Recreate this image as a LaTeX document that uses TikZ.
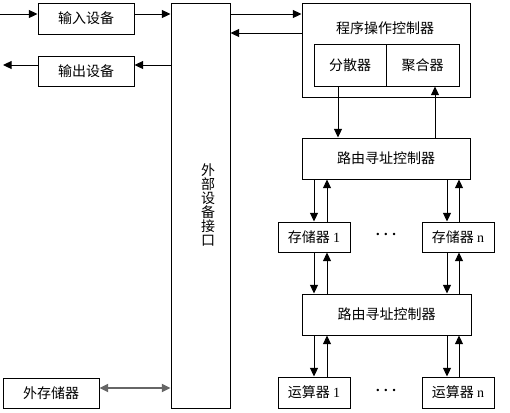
\documentclass[tikz,border=0pt]{standalone}
\usepackage{bm}
\usepackage{fontspec}
\setmainfont{Liberation Serif}
\newfontfamily\cjk{Noto Sans CJK SC}
\usetikzlibrary{arrows.meta}
\tikzset{every picture/.style={line width=0.75pt}}
\tikzset{
  box/.style={draw,inner sep=0pt,font=\cjk\fontsize{10.5}{12}\selectfont},
  arr/.style={-{Triangle[length=6.5pt,width=6pt]}},
  dblarr/.style={{Triangle[length=6.5pt,width=6pt]}-{Triangle[length=6.5pt,width=6pt]}}
}

\begin{document}
\begin{tikzpicture}[x=0.75pt,y=0.75pt,yscale=-1,xscale=1]
	%set diagram frame 510 x 412
	\useasboundingbox (0,0) rectangle (510,412);
	
	%Left devices
	\node [box,minimum width=72pt,minimum height=23.25pt] (in) at (86,18.5) {输入设备};
	\node [box,minimum width=72pt,minimum height=22.5pt] (out) at (86,71) {输出设备};
	\node [box,minimum width=72pt,minimum height=22.5pt] (ext) at (51,393) {外存储器};
	%Interface
	\node [box,minimum width=44.25pt,minimum height=303.75pt] (ifc) at (200.5,205.5) {};
	\node [font=\cjk\fontsize{10.5}{10.5}\selectfont,align=center,inner sep=0pt] (ifctxt) at (208,205) {外\\部\\设\\备\\接\\口};
	
	%Program controller
	\node [box,minimum width=126pt,minimum height=70.5pt] (pc) at (386,50) {};
	\node [font=\cjk\fontsize{10.5}{12}\selectfont,inner sep=0pt] (pctxt) at (385,28) {程序操作控制器};
	\node [box,minimum width=54pt,minimum height=31.5pt] (sc) at (350,65) {分散器};
	\node [box,minimum width=54.75pt,minimum height=31.5pt] (jh) at (422.5,65) {聚合器};
	
	%Routing controllers
	\node [box,minimum width=126pt,minimum height=30.75pt] (rt1) at (386,158.5) {路由寻址控制器};
	\node [box,minimum width=126.75pt,minimum height=30.75pt] (rt2) at (386.5,314.5) {路由寻址控制器};
	
	%Memories and ALUs
	\node [box,minimum width=54pt,minimum height=22.5pt] (mem1) at (314,237) {存储器 {\rmfamily 1}};
	\node [box,minimum width=54pt,minimum height=22.5pt] (memn) at (458,237) {存储器 {\rmfamily n}};
	\node [box,minimum width=54pt,minimum height=23.25pt] (alu1) at (314,392.5) {运算器 {\rmfamily 1}};
	\node [box,minimum width=54pt,minimum height=23.25pt] (alun) at (458,392.5) {运算器 {\rmfamily n}};
	\node [font=\fontsize{13}{13}\selectfont,inner sep=0pt] (dots1) at (386,235) {$\bm{\cdots}$};
	\node [font=\fontsize{13}{13}\selectfont,inner sep=0pt] (dots2) at (386,391) {$\bm{\cdots}$};
	
	%Arrow levels
	\coordinate (inY) at (0,14);
	\coordinate (outY) at (3,65);
	\coordinate (backY) at (0,33);
	\coordinate (extY) at (0,388);
	
	%Left connectors
	\draw [arr] (inY) -- (inY -| in.west);
	\draw [arr] (in.east |- inY) -- (inY -| ifc.west);
	\draw [arr] (ifc.west |- outY) -- (outY -| out.east);
	\draw [arr] (out.west |- outY) -- (outY);
	\draw [dblarr,draw=gray!80!black,line width=1.5pt] (ext.east |- extY) -- (extY -| ifc.west);
	
	%Interface to program controller
	\draw [arr] (ifc.east |- inY) -- (inY -| pc.west);
	\draw [arr] (pc.west |- backY) -- (backY -| ifc.east);
	
	%Program controller to routing
	\draw [arr] ([xshift=-9pt]sc.south) -- ([xshift=-9pt]sc.south |- rt1.north);
	\draw [arr] ([xshift=9.375pt]jh.south |- rt1.north) -- ([xshift=9.375pt]jh.south);
	
	%Routing 1 to memories
	\draw [arr] (mem1.north |- rt1.south) -- (mem1.north);
	\draw [arr] ([xshift=9.75pt]mem1.north) -- ([xshift=9.75pt]mem1.north |- rt1.south);
	\draw [arr] ([xshift=-8.25pt]memn.north |- rt1.south) -- ([xshift=-8.25pt]memn.north);
	\draw [arr] ([xshift=0.75pt]memn.north) -- ([xshift=0.75pt]memn.north |- rt1.south);
	
	%Memories to routing 2
	\draw [arr] (mem1.south) -- (mem1.south |- rt2.north);
	\draw [arr] ([xshift=9.75pt]mem1.south |- rt2.north) -- ([xshift=9.75pt]mem1.south);
	\draw [arr] ([xshift=-8.25pt]memn.south) -- ([xshift=-8.25pt]memn.south |- rt2.north);
	\draw [arr] ([xshift=0.75pt]memn.south |- rt2.north) -- ([xshift=0.75pt]memn.south);
	
	%Routing 2 to ALUs
	\draw [arr] (alu1.north |- rt2.south) -- (alu1.north);
	\draw [arr] ([xshift=9.75pt]alu1.north) -- ([xshift=9.75pt]alu1.north |- rt2.south);
	\draw [arr] ([xshift=-8.25pt]alun.north |- rt2.south) -- ([xshift=-8.25pt]alun.north);
	\draw [arr] ([xshift=0.75pt]alun.north) -- ([xshift=0.75pt]alun.north |- rt2.south);
	
\end{tikzpicture}
\end{document}
